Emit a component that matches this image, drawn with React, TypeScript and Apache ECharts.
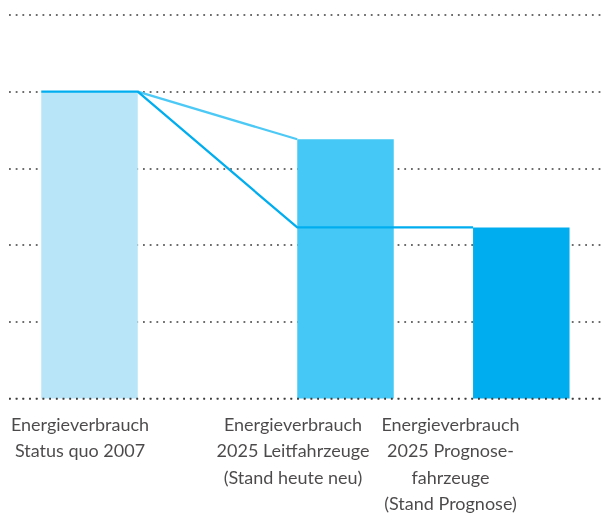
import React, { useEffect, useRef } from "react";
import * as echarts from "echarts";

const categories = [
  "Energieverbrauch\nStatus quo 2007",
  "Energieverbrauch\n2025 Leitfahrzeuge\n(Stand heute neu)",
  "Energieverbrauch\n2025 Prognose-\nfahrzeuge\n(Stand Prognose)",
];
const values = [4.0, 3.38, 2.23];
const barColors = ["#b9e5f9", "#45c8f5", "#00aeef"];
const barX = [80.5, 336.5, 512.3];
const labelX = [71, 284, 441.5];
const yTicks = [0, 1, 2, 3, 4, 5];

const BAR_W = 96.5;

export default function App() {
  const ref = useRef<HTMLDivElement>(null);
  useEffect(() => {
    if (!ref.current) return;
    const chart = echarts.init(ref.current, null, { renderer: "svg" });
    const half = BAR_W / 2;
    const lightLine = [
      [barX[0] + half, values[0]],
      [barX[1] - half, values[1]],
    ];
    const darkLine = [
      [barX[0] - half, values[0]],
      [barX[0] + half, values[0]],
      [barX[1] - half, values[2]],
      [barX[2] - half, values[2]],
    ];
    const dotted = { color: "#3c3c3c", width: 1.6, type: [1.8, 4.9] as any };
    chart.setOption({
      animation: false,
      grid: { left: 9, right: 0, top: 15, bottom: 123.5 },
      xAxis: {
        type: "value",
        min: 0,
        max: 592,
        axisLine: { show: false },
        axisTick: { show: false },
        axisLabel: { show: false },
        splitLine: { show: false },
      },
      yAxis: {
        type: "value",
        min: yTicks[0],
        max: yTicks[yTicks.length - 1],
        interval: 1,
        axisLine: { show: false },
        axisTick: { show: false },
        axisLabel: { show: false },
        splitLine: { show: true, lineStyle: dotted },
      },
      series: [
        {
          type: "bar",
          barWidth: BAR_W,
          z: 2,
          data: values.map((v, i) => ({
            value: [barX[i], v],
            itemStyle: { color: barColors[i] },
          })),
        },
        {
          type: "line",
          z: 3,
          symbol: "none",
          lineStyle: { color: "#4dc9f6", width: 2.3 },
          data: lightLine,
        },
        {
          type: "line",
          z: 4,
          symbol: "none",
          lineStyle: { color: "#00aeef", width: 2.3 },
          data: darkLine,
        },
        {
          type: "line",
          z: 5,
          symbol: "none",
          lineStyle: dotted,
          data: [
            [0, 0],
            [592, 0],
          ],
        },
        {
          type: "scatter",
          symbolSize: 0,
          z: 6,
          data: labelX.map((x, i) => ({
            value: [x, 0],
            label: {
              show: true,
              position: "bottom",
              distance: 12,
              formatter: categories[i],
              color: "#1e1b1c",
              fontFamily: "Lato",
              fontSize: 18,
              lineHeight: 26.5,
              align: "center",
            },
          })),
        },
      ],
    });
    return () => chart.dispose();
  }, []);
  return (
    <div
      ref={ref}
      style={{ position: "fixed", left: 0, top: 0, width: 601, height: 522 }}
    />
  );
}
